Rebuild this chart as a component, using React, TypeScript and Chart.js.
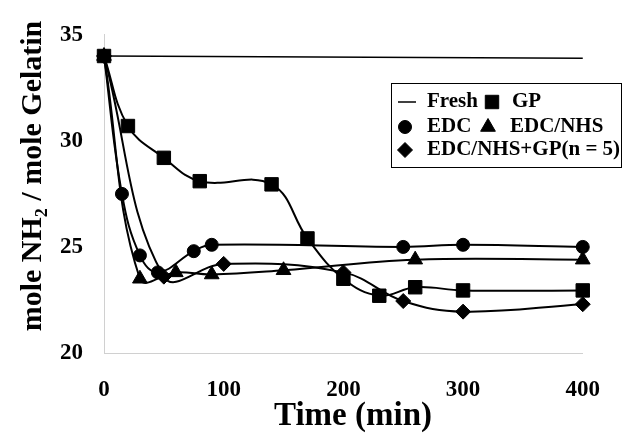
import React, { useEffect, useRef } from 'react';
import { Chart, registerables } from 'chart.js';
import { drawPoint } from 'chart.js/helpers';

Chart.register(...registerables);

const FONT = '"Liberation Serif", "Times New Roman", Times, serif';

// ---- data ----
const freshTimes = [0, 400];
const freshValues = [34.0, 33.9];

const gpTimes = [0, 20, 50, 80, 140, 170, 200, 230, 260, 300, 400];
const gpValues = [34.0, 30.7, 29.2, 28.1, 27.95, 25.4, 23.5, 22.7, 23.1, 22.95, 22.95];

const edcTimes = [0, 15, 30, 45, 75, 90, 250, 300, 400];
const edcValues = [34.0, 27.5, 24.6, 23.8, 24.8, 25.1, 25.0, 25.1, 25.0];

const nhsTimes = [0, 30, 60, 90, 150, 260, 400];
const nhsValues = [34.0, 23.5, 23.8, 23.7, 23.9, 24.4, 24.4];

const nhsGpTimes = [0, 50, 100, 200, 250, 300, 400];
const nhsGpValues = [34.0, 23.6, 24.2, 23.8, 22.45, 21.95, 22.3];

const seriesLabels = ['Fresh', 'GP', 'EDC', 'EDC/NHS', 'EDC/NHS+GP(n = 5)'];
const xTickValues = [0, 100, 200, 300, 400];
const yTickValues = [20, 25, 30, 35];

const xTitle = 'Time (min)';
const yTitle = 'mole NH\u2082 / mole Gelatin';

const zip = (t: number[], v: number[]) => t.map((x, i) => ({ x, y: v[i] }));

const legendPlugin = {
  id: 'boxLegend',
  afterDraw(chart: any) {
    const ctx: CanvasRenderingContext2D = chart.ctx;
    const ds = chart.data.datasets;
    ctx.save();
    ctx.fillStyle = '#000';
    // y-axis title
    ctx.save();
    ctx.translate(33, 176);
    ctx.rotate(-Math.PI / 2);
    ctx.font = `bold 30px ${FONT}`;
    ctx.textAlign = 'center';
    ctx.textBaseline = 'middle';
    ctx.fillText(yTitle, 0, 0);
    ctx.restore();
    // x-axis title
    ctx.font = `bold 33px ${FONT}`;
    ctx.textAlign = 'center';
    ctx.textBaseline = 'middle';
    ctx.fillText(xTitle, 353, 416);

    ctx.lineWidth = 1;
    ctx.strokeStyle = '#000';
    ctx.strokeRect(391.5, 83.5, 230, 84);
    ctx.font = `bold 21px ${FONT}`;
    ctx.textBaseline = 'middle';
    ctx.textAlign = 'left';
    const items = [
      { i: 0, mx: 407, tx: 427, y: 102 },
      { i: 1, mx: 492, tx: 512, y: 102 },
      { i: 2, mx: 405, tx: 427, y: 127 },
      { i: 3, mx: 488, tx: 510, y: 127 },
      { i: 4, mx: 405, tx: 427, y: 150 },
    ];
    items.forEach((it) => {
      const d = ds[it.i];
      if (!d.pointRadius) {
        ctx.lineWidth = 1.5;
        ctx.beginPath();
        ctx.moveTo(it.mx - 9, it.y);
        ctx.lineTo(it.mx + 9, it.y);
        ctx.stroke();
      } else {
        ctx.lineWidth = 1;
        drawPoint(ctx, { pointStyle: d.pointStyle, rotation: 0, radius: d.pointRadius, borderWidth: 1 }, it.mx, it.y);
      }
      ctx.fillText(d.label, it.tx, it.y);
    });
    ctx.restore();
  },
};

export default function App() {
  const ref = useRef<HTMLCanvasElement>(null);

  useEffect(() => {
    if (!ref.current) return;
    const common = {
      borderColor: '#000',
      backgroundColor: '#000',
      borderWidth: 2,
      tension: 0.4,
      pointBorderWidth: 1,
      clip: false as any,
    };
    const chart = new Chart(ref.current, {
      type: 'line',
      data: {
        datasets: [
          { ...common, label: seriesLabels[0], data: zip(freshTimes, freshValues), pointRadius: 0, borderWidth: 1.5, tension: 0 },
          { ...common, label: seriesLabels[1], data: zip(gpTimes, gpValues), pointStyle: 'rect', pointRadius: 9.5 },
          { ...common, label: seriesLabels[2], data: zip(edcTimes, edcValues), pointStyle: 'circle', pointRadius: 6.5 },
          { ...common, label: seriesLabels[3], data: zip(nhsTimes, nhsValues), pointStyle: 'triangle', pointRadius: 8.5 },
          { ...common, label: seriesLabels[4], data: zip(nhsGpTimes, nhsGpValues), pointStyle: 'rectRot', pointRadius: 7.5 },
        ] as any,
      },
      options: {
        animation: false,
        responsive: false,
        layout: { padding: { left: 0, top: 23, right: 37, bottom: 0 } },
        plugins: { legend: { display: false }, tooltip: { enabled: false } },
        scales: {
          x: {
            type: 'linear',
            min: 0,
            max: 400,
            afterFit: (s: any) => { s.height = 87; },
            afterBuildTicks: (s: any) => { s.ticks = xTickValues.map((v) => ({ value: v })); },
            grid: { display: false, drawTicks: false },
            border: { display: true, color: '#d0d0d0', dash: [1, 12], width: 1 },
            ticks: { color: '#000', padding: 23, font: { family: FONT, size: 23, weight: 'bold' } },
            title: { display: false },
          },
          y: {
            type: 'linear',
            min: 20,
            max: 35,
            afterFit: (s: any) => { s.width = 104; },
            afterBuildTicks: (s: any) => { s.ticks = yTickValues.map((v) => ({ value: v })); },
            grid: { display: false, drawTicks: false },
            border: { display: true, color: '#d0d0d0', dash: [1, 12], width: 1 },
            ticks: { color: '#000', padding: 21, font: { family: FONT, size: 23, weight: 'bold' } },
            title: { display: false },
          },
        },
      } as any,
      plugins: [legendPlugin],
    });
    return () => chart.destroy();
  }, []);

  return (
    <div style={{ position: 'fixed', left: 0, top: 0, width: 623, height: 440, background: '#fff' }}>
      <canvas ref={ref} width={623} height={440} />
    </div>
  );
}
